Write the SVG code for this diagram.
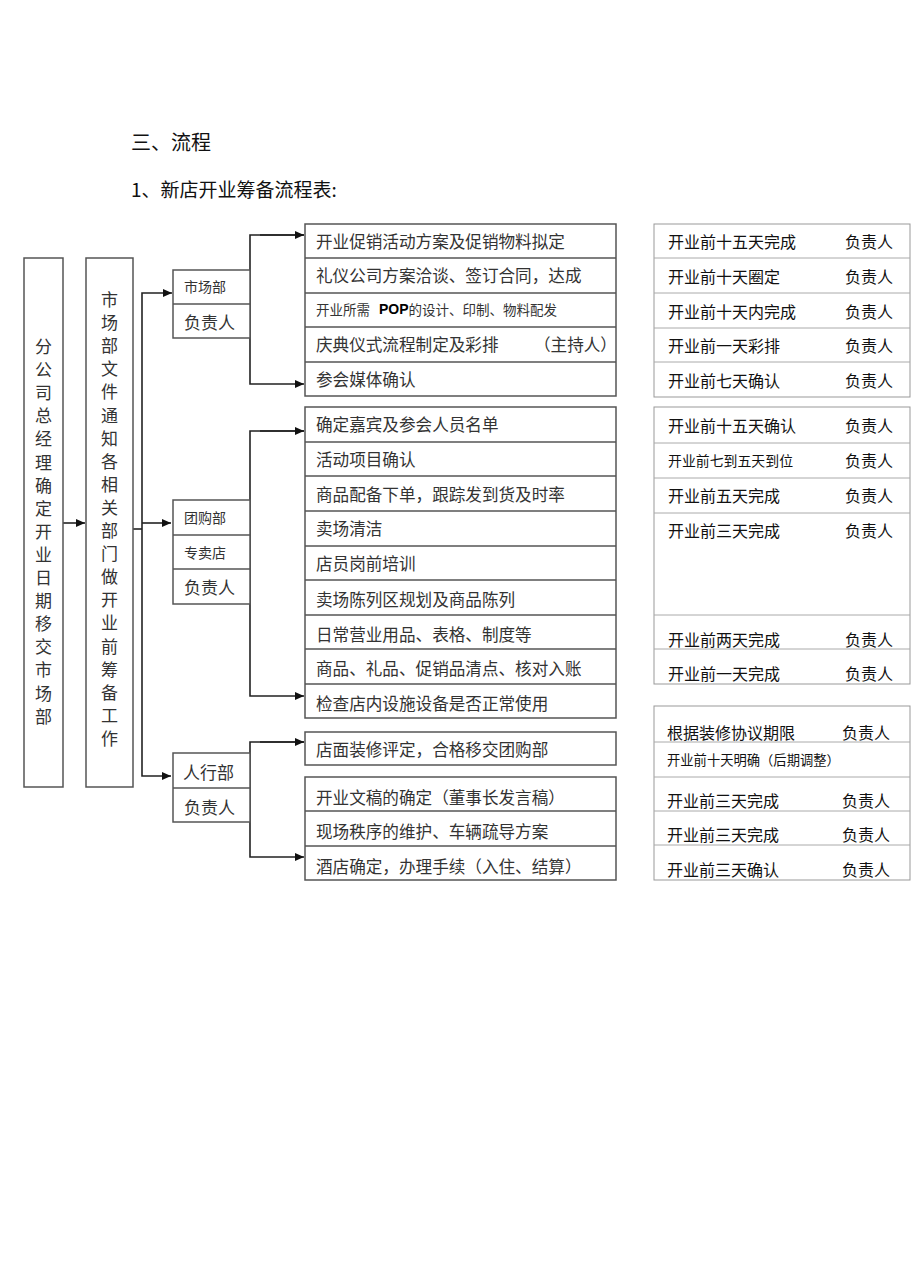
<svg xmlns="http://www.w3.org/2000/svg" width="920" height="1269" viewBox="0 0 920 1269">
<style>
.bg{fill:#fff}
.box{fill:#fff;stroke:#555;stroke-width:1.5}
.rbox{fill:#fff;stroke:#999;stroke-width:1}
.ln{stroke:#555;stroke-width:1.5}
.rln{stroke:#aaa;stroke-width:1}
.con{fill:none;stroke:#222;stroke-width:1.6}
.t{font-family:"Noto Sans CJK SC","Liberation Sans",sans-serif;fill:#333;dominant-baseline:central}
.m{font-size:16.6px}
.r{font-family:"Noto Sans CJK SC","Liberation Sans",sans-serif;fill:#111;font-size:16px;dominant-baseline:central}
.rs{font-size:13.3px}
.h{font-family:"Noto Sans CJK SC","Liberation Sans",sans-serif;fill:#111}
</style>
<defs>
<marker id="ah" markerWidth="10" markerHeight="10" refX="9" refY="5" orient="auto" markerUnits="userSpaceOnUse">
<path d="M0,1 L9,5 L0,9 Z" fill="#111"/>
</marker>
</defs>
<rect class="bg" width="920" height="1269"/>
<g id="title">
<text class="h" x="131" y="150" font-size="20">三、流程</text>
<text class="h" x="131" y="197" font-size="19">1、新店开业筹备流程表:</text>
</g>
<g id="connectors">
<line class="con" x1="63" y1="523" x2="85" y2="523" marker-end="url(#ah)"/>
<polyline class="con" points="133,529 142,529"/>
<polyline class="con" points="171,293 142,293 142,776 171,776" marker-end="url(#ah)"/>
<line class="con" x1="142" y1="523" x2="171" y2="523" marker-end="url(#ah)"/>
<line class="con" x1="171" y1="293" x2="172" y2="293" marker-end="url(#ah)"/>
<polyline class="con" points="304,235 250,235 250,384 304,384" marker-end="url(#ah)"/>
<line class="con" x1="260" y1="235" x2="304" y2="235" marker-end="url(#ah)"/>
<polyline class="con" points="304,431 250,431 250,696 304,696" marker-end="url(#ah)"/>
<line class="con" x1="260" y1="431" x2="304" y2="431" marker-end="url(#ah)"/>
<polyline class="con" points="304,742 250,742 250,857 304,857" marker-end="url(#ah)"/>
<line class="con" x1="260" y1="742" x2="304" y2="742" marker-end="url(#ah)"/>
</g>
<g id="gm">
<rect class="box" x="24" y="258" width="39" height="529"/>
<text class="t" font-size="17" text-anchor="middle"><tspan x="43.5" y="345">分</tspan><tspan x="43.5" y="368.1">公</tspan><tspan x="43.5" y="391.2">司</tspan><tspan x="43.5" y="414.3">总</tspan><tspan x="43.5" y="437.4">经</tspan><tspan x="43.5" y="460.5">理</tspan><tspan x="43.5" y="483.6">确</tspan><tspan x="43.5" y="506.7">定</tspan><tspan x="43.5" y="529.8">开</tspan><tspan x="43.5" y="552.9">业</tspan><tspan x="43.5" y="576">日</tspan><tspan x="43.5" y="599.1">期</tspan><tspan x="43.5" y="622.2">移</tspan><tspan x="43.5" y="645.3">交</tspan><tspan x="43.5" y="668.4">市</tspan><tspan x="43.5" y="691.5">场</tspan><tspan x="43.5" y="714.6">部</tspan></text>
</g>
<g id="notice">
<rect class="box" x="86" y="258" width="47" height="529"/>
<text class="t" font-size="17" text-anchor="middle"><tspan x="109.5" y="298">市</tspan><tspan x="109.5" y="321.1">场</tspan><tspan x="109.5" y="344.2">部</tspan><tspan x="109.5" y="367.3">文</tspan><tspan x="109.5" y="390.4">件</tspan><tspan x="109.5" y="413.5">通</tspan><tspan x="109.5" y="436.6">知</tspan><tspan x="109.5" y="459.7">各</tspan><tspan x="109.5" y="482.8">相</tspan><tspan x="109.5" y="505.9">关</tspan><tspan x="109.5" y="529">部</tspan><tspan x="109.5" y="552.1">门</tspan><tspan x="109.5" y="575.2">做</tspan><tspan x="109.5" y="598.3">开</tspan><tspan x="109.5" y="621.4">业</tspan><tspan x="109.5" y="644.5">前</tspan><tspan x="109.5" y="667.6">筹</tspan><tspan x="109.5" y="690.7">备</tspan><tspan x="109.5" y="713.8">工</tspan><tspan x="109.5" y="736.9">作</tspan></text>
</g>
<g id="dept-market">
<rect class="box" x="173" y="270" width="77" height="68"/>
<line class="ln" x1="173" y1="304" x2="250" y2="304"/>
<text class="t" x="184" y="286" font-size="14">市场部</text>
<text class="t" x="184" y="321" font-size="17">负责人</text>
</g>
<g id="dept-group">
<rect class="box" x="173" y="500" width="77" height="104"/>
<line class="ln" x1="173" y1="535" x2="250" y2="535"/>
<line class="ln" x1="173" y1="569" x2="250" y2="569"/>
<text class="t" x="184" y="517" font-size="14">团购部</text>
<text class="t" x="184" y="552" font-size="14">专卖店</text>
<text class="t" x="184" y="586" font-size="17">负责人</text>
</g>
<g id="dept-hr">
<rect class="box" x="173" y="753" width="77" height="69"/>
<line class="ln" x1="173" y1="788" x2="250" y2="788"/>
<text class="t" x="183" y="771" font-size="17">人行部</text>
<text class="t" x="184" y="806" font-size="17">负责人</text>
</g>
<g id="tasks-market">
<rect class="box" x="305" y="224" width="311" height="172"/>
<line class="ln" x1="305" y1="258" x2="616" y2="258"/>
<line class="ln" x1="305" y1="293" x2="616" y2="293"/>
<line class="ln" x1="305" y1="327" x2="616" y2="327"/>
<line class="ln" x1="305" y1="362" x2="616" y2="362"/>
<text class="t m" x="316" y="241">开业促销活动方案及促销物料拟定</text>
<text class="t m" x="316" y="275">礼仪公司方案洽谈、签订合同，达成</text>
<text class="t" x="316" y="309" font-size="13.5">开业所需 <tspan font-family="Liberation Sans" font-size="14" fill="#000" font-weight="bold" dx="6">POP</tspan>的设计、印制、物料配发</text>
<text class="t m" x="316" y="344">庆典仪式流程制定及彩排</text>
<text class="t m" x="534" y="344">（主持人）</text>
<text class="t m" x="316" y="379">参会媒体确认</text>
</g>
<g id="tasks-group">
<rect class="box" x="305" y="407" width="311" height="311"/>
<line class="ln" x1="305" y1="442" x2="616" y2="442"/>
<line class="ln" x1="305" y1="476" x2="616" y2="476"/>
<line class="ln" x1="305" y1="511" x2="616" y2="511"/>
<line class="ln" x1="305" y1="546" x2="616" y2="546"/>
<line class="ln" x1="305" y1="580" x2="616" y2="580"/>
<line class="ln" x1="305" y1="615" x2="616" y2="615"/>
<line class="ln" x1="305" y1="649" x2="616" y2="649"/>
<line class="ln" x1="305" y1="684" x2="616" y2="684"/>
<text class="t m" x="316" y="424">确定嘉宾及参会人员名单</text>
<text class="t m" x="316" y="459">活动项目确认</text>
<text class="t m" x="316" y="494">商品配备下单，跟踪发到货及时率</text>
<text class="t m" x="316" y="528">卖场清洁</text>
<text class="t m" x="316" y="563">店员岗前培训</text>
<text class="t m" x="316" y="599">卖场陈列区规划及商品陈列</text>
<text class="t m" x="316" y="634">日常营业用品、表格、制度等</text>
<text class="t m" x="316" y="668">商品、礼品、促销品清点、核对入账</text>
<text class="t m" x="316" y="703">检查店内设施设备是否正常使用</text>
</g>
<g id="task-renovation">
<rect class="box" x="305" y="732" width="311" height="33"/>
<text class="t m" x="316" y="749">店面装修评定，合格移交团购部</text>
</g>
<g id="tasks-hr">
<rect class="box" x="305" y="777" width="311" height="103"/>
<line class="ln" x1="305" y1="811" x2="616" y2="811"/>
<line class="ln" x1="305" y1="846" x2="616" y2="846"/>
<text class="t m" x="316" y="797">开业文稿的确定（董事长发言稿）</text>
<text class="t m" x="316" y="831">现场秩序的维护、车辆疏导方案</text>
<text class="t m" x="316" y="866">酒店确定，办理手续（入住、结算）</text>
</g>
<g id="deadlines-market">
<rect class="rbox" x="654" y="224" width="256" height="173"/>
<line class="rln" x1="654" y1="258" x2="910" y2="258"/>
<line class="rln" x1="654" y1="293" x2="910" y2="293"/>
<line class="rln" x1="654" y1="328" x2="910" y2="328"/>
<line class="rln" x1="654" y1="362" x2="910" y2="362"/>
<text class="r" x="668" y="241">开业前十五天完成</text><text class="r" x="845" y="241">负责人</text>
<text class="r" x="668" y="276">开业前十天圈定</text><text class="r" x="845" y="276">负责人</text>
<text class="r" x="668" y="311">开业前十天内完成</text><text class="r" x="845" y="311">负责人</text>
<text class="r" x="668" y="345">开业前一天彩排</text><text class="r" x="845" y="345">负责人</text>
<text class="r" x="668" y="380">开业前七天确认</text><text class="r" x="845" y="380">负责人</text>
</g>
<g id="deadlines-group">
<rect class="rbox" x="654" y="407" width="256" height="277"/>
<line class="rln" x1="654" y1="443" x2="910" y2="443"/>
<line class="rln" x1="654" y1="478" x2="910" y2="478"/>
<line class="rln" x1="654" y1="513" x2="910" y2="513"/>
<line class="rln" x1="654" y1="615" x2="910" y2="615"/>
<line class="rln" x1="654" y1="649" x2="910" y2="649"/>
<text class="r" x="668" y="425">开业前十五天确认</text><text class="r" x="845" y="425">负责人</text>
<text class="r" x="668" y="460" style="font-size:13.9px">开业前七到五天到位</text><text class="r" x="845" y="460">负责人</text>
<text class="r" x="668" y="495">开业前五天完成</text><text class="r" x="845" y="495">负责人</text>
<text class="r" x="668" y="530">开业前三天完成</text><text class="r" x="845" y="530">负责人</text>
<text class="r" x="668" y="639">开业前两天完成</text><text class="r" x="845" y="639">负责人</text>
<text class="r" x="668" y="673">开业前一天完成</text><text class="r" x="845" y="673">负责人</text>
</g>
<g id="deadlines-hr">
<rect class="rbox" x="654" y="706" width="256" height="174"/>
<line class="rln" x1="654" y1="742" x2="910" y2="742"/>
<line class="rln" x1="654" y1="777" x2="910" y2="777"/>
<line class="rln" x1="654" y1="811" x2="910" y2="811"/>
<line class="rln" x1="654" y1="845" x2="910" y2="845"/>
<text class="r" x="667" y="732">根据装修协议期限</text><text class="r" x="842" y="732">负责人</text>
<text class="r" x="667" y="759" style="font-size:13.3px">开业前十天明确（后期调整）</text>
<text class="r" x="667" y="800">开业前三天完成</text><text class="r" x="842" y="800">负责人</text>
<text class="r" x="667" y="834">开业前三天完成</text><text class="r" x="842" y="834">负责人</text>
<text class="r" x="667" y="869">开业前三天确认</text><text class="r" x="842" y="869">负责人</text>
</g>
</svg>
